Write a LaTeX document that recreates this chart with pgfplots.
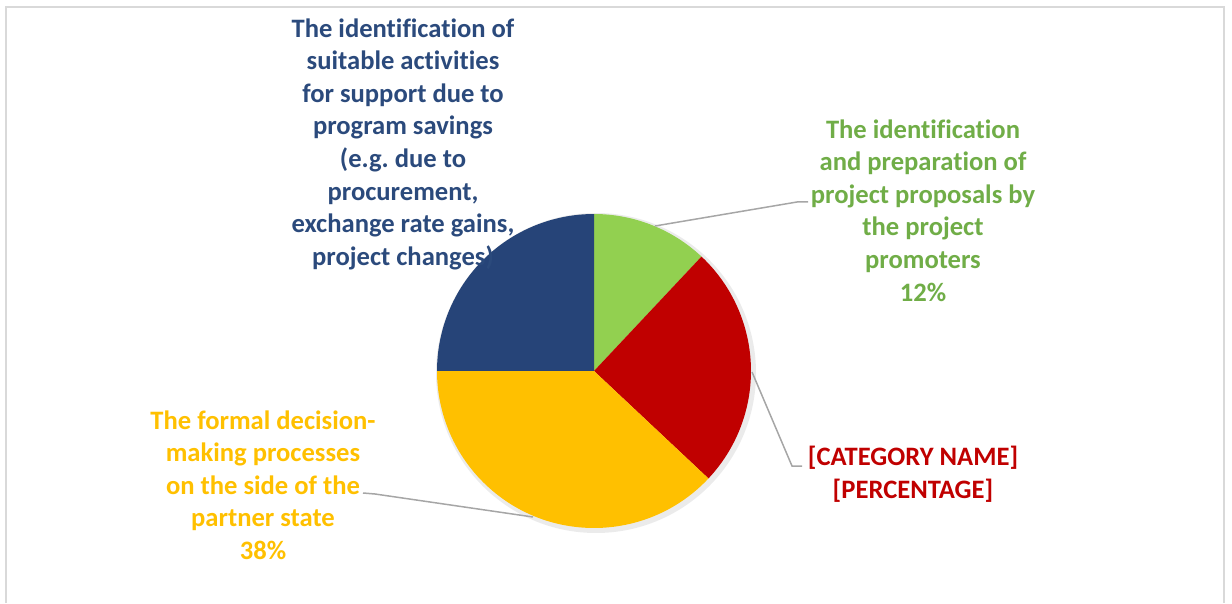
\documentclass[border=0pt]{standalone}
\usepackage{pgfplots}
\pgfplotsset{compat=1.18}
\usepackage{fontspec}
\setmainfont[Ligatures=NoCommon]{Carlito}

\definecolor{pgreen}{HTML}{92D050}
\definecolor{pred}{HTML}{C00000}
\definecolor{pyellow}{HTML}{FFC000}
\definecolor{pblue}{HTML}{264478}
\definecolor{tgreen}{HTML}{70AD47}
\definecolor{tblue}{HTML}{2B4A7C}
\definecolor{leader}{HTML}{A6A6A6}
\definecolor{frame}{HTML}{D9D9D9}

% shares in percent: green, red, yellow, blue
\def\vA{12}
\def\vB{25}
\def\vC{38}
\def\vD{25}

\begin{document}
\begin{tikzpicture}[lbl/.style={font=\bfseries\fontsize{13.3}{16.3}\selectfont, align=center, inner sep=0pt, anchor=north}]
\pgfmathsetmacro\aA{90}
\pgfmathsetmacro\aB{\aA-3.6*\vA}
\pgfmathsetmacro\aC{\aB-3.6*\vB}
\pgfmathsetmacro\aD{\aC-3.6*\vC}
\pgfmathsetmacro\aE{\aD-3.6*\vD}
\def\R{78.5pt}
\begin{axis}[
    scale only axis,
    width=616pt, height=301.5pt,
    xmin=0, xmax=1232, ymin=0, ymax=603,
    y dir=reverse,
    hide axis,
    clip=false,
  ]
  \path (axis cs:0,0) rectangle (axis cs:1232,603);
  % frame
  \draw[frame, line width=1pt] (axis cs:6,603) -- (axis cs:6,7) -- (axis cs:1224,7) -- (axis cs:1224,603);
  % soft shadow
  \fill[black, opacity=0.08] (axis cs:596,373) circle[radius=\R+1.5pt];
  % slices
  \fill[pgreen] (axis cs:594,371) -- ++(\aA:\R) arc[start angle=\aA, end angle=\aB, radius=\R] -- cycle;
  \fill[pred] (axis cs:594,371) -- ++(\aB:\R) arc[start angle=\aB, end angle=\aC, radius=\R] -- cycle;
  \fill[pyellow] (axis cs:594,371) -- ++(\aC:\R) arc[start angle=\aC, end angle=\aD, radius=\R] -- cycle;
  \fill[pblue] (axis cs:594,371) -- ++(\aD:\R) arc[start angle=\aD, end angle=\aE, radius=\R] -- cycle;
  % leader lines
  \draw[leader, line width=0.75pt] (axis cs:655,226) -- (axis cs:797,202) -- (axis cs:808,202);
  \draw[leader, line width=0.75pt] (axis cs:752,372) -- (axis cs:792,466) -- (axis cs:802,466);
  \draw[leader, line width=0.75pt] (axis cs:533,517) -- (axis cs:375,494) -- (axis cs:363,493);
  % labels
  \node[lbl, text=tblue] at (axis cs:403,18) {The identification of\\suitable activities\\for support due to\\program savings\\(e.g.\ due to\\procurement,\\exchange rate gains,\\project changes)};
  \node[lbl, text=tgreen] at (axis cs:923,119) {The identification\\and preparation of\\project proposals by\\the project\\promoters\\12\%};
  \node[lbl, text=pred] at (axis cs:913,446) {{[CATEGORY NAME]}\\{[PERCENTAGE]}};
  \node[lbl, text=pyellow] at (axis cs:263,410) {The formal decision-\\making processes\\on the side of the\\partner state\\38\%};
\end{axis}
\end{tikzpicture}
\end{document}
